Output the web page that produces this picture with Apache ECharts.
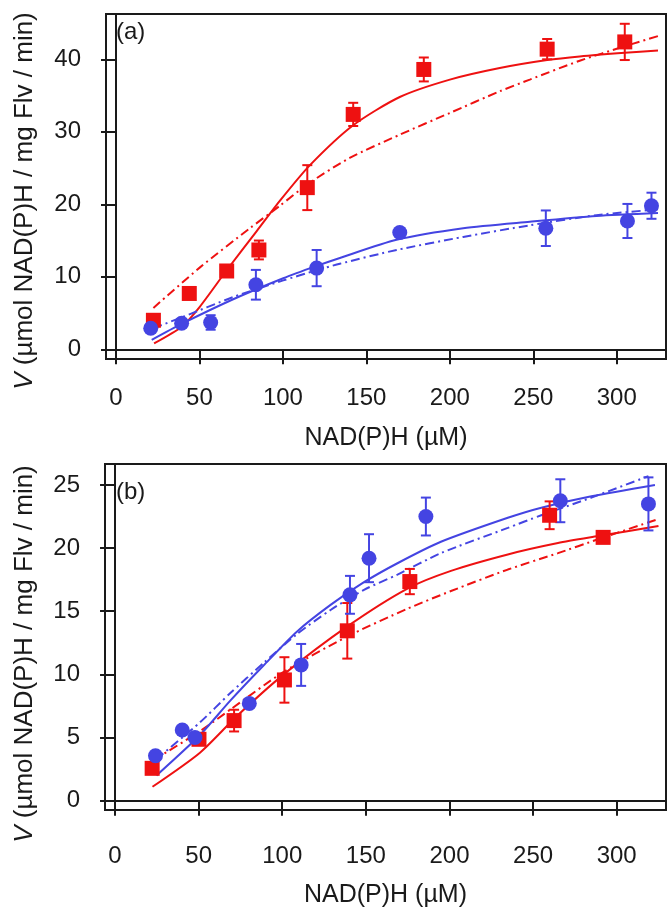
<!DOCTYPE html>
<html>
<head>
<meta charset="utf-8">
<script src="https://cdn.jsdelivr.net/npm/echarts@6/dist/echarts.min.js"></script>
<style>
  html, body { margin: 0; padding: 0; background: #fff; }
  #chart { width: 667px; height: 911px; }
</style>
</head>
<body>
<div id="chart"></div>
<script>
// tick labels
const xTicks = [0, 50, 100, 150, 200, 250, 300]
const yTicksA = [0, 10, 20, 30, 40]
const yTicksB = [0, 5, 10, 15, 20, 25]

// (a) measured points
const redAx = [22.4, 43.9, 66.3, 85.6, 114.6, 142.1, 184.4, 258.3, 304.8]
const redAy = [4.0, 7.7, 10.8, 13.7, 22.3, 32.4, 38.6, 41.4, 42.4]
const redAerr = [0, 0, 0, 1.3, 3.1, 1.6, 1.65, 1.4, 2.5]
const blueAx = [20.8, 39.3, 56.7, 83.8, 120.2, 170, 257.5, 306.4, 320.8]
const blueAy = [2.9, 3.6, 3.7, 8.9, 11.2, 16.1, 16.7, 17.7, 19.8]
const blueAerr = [0, 0, 1.0, 2.05, 2.5, 0, 2.45, 2.35, 1.8]

// (a) fitted curves
const redFitAx = [22.8, 39.3, 50.3, 66.3, 84.3, 98.6, 116.2, 142.1, 170, 200, 229.9, 258.3, 277.8, 304.8, 324.7]
const redFitAy = [0.8, 3.1, 5.9, 10.9, 16.3, 20.6, 25.4, 30.9, 34.8, 37.2, 38.8, 39.9, 40.4, 40.9, 41.2]
const redAltAx = [22.4, 50.3, 80.2, 98.2, 115, 140, 170, 200, 230, 247.9, 277.8, 304.8, 324.7]
const redAltAy = [5.7, 11.3, 16.7, 19.8, 22.8, 26.4, 29.6, 32.6, 35.6, 37.2, 39.8, 41.8, 43.2]
const blueFitAx = [21.4, 39.3, 70.2, 100.2, 120.2, 134.1, 168.1, 208, 247.9, 287.8, 324.7]
const blueFitAy = [1.3, 3.5, 6.9, 9.8, 11.5, 12.6, 15.1, 16.7, 17.6, 18.4, 18.8]
const blueAltAx = [22.4, 39.3, 70.2, 100.2, 120.2, 134.1, 168.1, 208, 247.9, 287.8, 324.7]
const blueAltAy = [2.9, 4.4, 7.2, 9.5, 10.9, 11.8, 13.7, 15.5, 17.1, 18.5, 19.3]

// (b) measured points
const redBx = [22.2, 50.2, 71.2, 101.3, 138.9, 176.3, 259.9, 291.9]
const redBy = [2.56, 4.86, 6.34, 9.56, 13.45, 17.35, 22.6, 20.85]
const redBerr = [0, 0, 0.86, 1.8, 2.2, 1.0, 1.1, 0]
const blueBx = [24.2, 40.2, 47.8, 80.3, 111.3, 140.5, 151.9, 185.9, 266.3, 319]
const blueBy = [3.56, 5.6, 5.0, 7.7, 10.75, 16.3, 19.2, 22.5, 23.75, 23.5]
const blueBerr = [0, 0, 0, 0, 1.66, 1.5, 1.9, 1.5, 1.7, 2.1]

// (b) fitted curves
const redFitBx = [22.4, 50.8, 72.9, 100.9, 138.9, 174.9, 200.9, 234.9, 264.9, 288.9, 325]
const redFitBy = [1.1, 3.8, 6.7, 10.0, 13.8, 16.8, 18.2, 19.5, 20.4, 20.95, 21.75]
const redAltBx = [23, 50.8, 68.8, 100.9, 138.9, 174.9, 200.9, 234.9, 264.9, 288.9, 325]
const redAltBy = [3.2, 5.5, 7.2, 10.2, 13.0, 15.2, 16.6, 18.3, 19.6, 20.7, 22.3]
const blueFitBx = [24.8, 50.8, 68.8, 88.8, 108.9, 128.9, 148.9, 168.9, 194.9, 234.9, 254.9, 284.9, 322.9]
const blueFitBy = [2.0, 5.2, 7.9, 10.7, 13.4, 15.5, 17.3, 18.8, 20.5, 22.4, 23.2, 24.1, 25.0]
const blueAltBx = [24.8, 50.8, 68.8, 88.8, 108.9, 128.9, 148.9, 168.9, 194.9, 234.9, 254.9, 284.9, 319]
const blueAltBy = [3.3, 6.2, 8.5, 10.9, 13.2, 15.1, 16.7, 17.9, 19.6, 21.6, 22.6, 24.0, 25.7]

const RED = '#EE1111'
const BLUE = '#4444E2'
const INK = '#1a1a1a'
const FONT = 'Liberation Sans, Arial, sans-serif'
const DASHDOT = [9, 4, 2, 4]

const zip = (xs, ys) => xs.map((x, i) => [x, ys[i]])

const chart = echarts.init(document.getElementById('chart'))

const xAxisOf = (idx, labelMargin, nameGap) => ({
  type: 'value', gridIndex: idx, min: -6, max: 329.5,
  name: 'NAD(P)H (µM)', nameLocation: 'middle', nameGap: nameGap,
  nameTextStyle: { fontSize: 25, color: INK, fontFamily: FONT },
  axisLine: { show: true, lineStyle: { color: INK, width: 2 } },
  axisTick: { show: true, inside: false, length: 15, lineStyle: { color: INK, width: 2 }, customValues: xTicks },
  axisLabel: { color: INK, fontSize: 24, fontFamily: FONT, margin: labelMargin, customValues: xTicks },
  splitLine: { show: false }
})

const yAxisOf = (idx, min, max, ticks) => ({
  type: 'value', gridIndex: idx, min: min, max: max,
  axisLine: { show: true, lineStyle: { color: INK, width: 2 } },
  axisTick: { show: true, inside: false, length: 15, lineStyle: { color: INK, width: 2 }, customValues: ticks },
  axisLabel: { color: INK, fontSize: 24, fontFamily: FONT, margin: 25, customValues: ticks },
  splitLine: { show: false }
})

const yTitle = (cy) => ({
  type: 'text', x: 25, y: cy, rotation: Math.PI / 2,
  style: {
    text: '{i|V} (µmol NAD(P)H / mg Flv / min)',
    fontSize: 26, fill: INK, fontFamily: FONT, align: 'center', verticalAlign: 'middle',
    rich: { i: { fontSize: 26, fontStyle: 'italic', fill: INK, fontFamily: FONT } }
  }
})

const curve = (idx, xs, ys, color, dashed) => ({
  type: 'line', xAxisIndex: idx, yAxisIndex: idx,
  data: zip(xs, ys), smooth: 0.25, showSymbol: false, silent: true, z: 2,
  lineStyle: { color: color, width: 2, type: dashed ? DASHDOT : 'solid' }
})

const errBars = (idx, xs, ys, errs, color) => ({
  type: 'custom', xAxisIndex: idx, yAxisIndex: idx, z: 3,
  data: xs.map((x, i) => [x, ys[i] - errs[i], ys[i] + errs[i]]).filter((d, i) => errs[i] > 0),
  renderItem: (params, api) => {
    const lo = api.coord([api.value(0), api.value(1)])
    const hi = api.coord([api.value(0), api.value(2)])
    const w = 5
    const style = { stroke: color, lineWidth: 2 }
    return {
      type: 'group',
      children: [
        { type: 'line', shape: { x1: lo[0], y1: lo[1], x2: hi[0], y2: hi[1] }, style },
        { type: 'line', shape: { x1: lo[0] - w, y1: lo[1], x2: lo[0] + w, y2: lo[1] }, style },
        { type: 'line', shape: { x1: hi[0] - w, y1: hi[1], x2: hi[0] + w, y2: hi[1] }, style }
      ]
    }
  }
})

const points = (idx, xs, ys, color, symbol, size, z) => ({
  type: 'scatter', xAxisIndex: idx, yAxisIndex: idx, z: z,
  data: zip(xs, ys), symbol: symbol, symbolSize: size,
  itemStyle: { color: color, opacity: 1 }
})

chart.setOption({
  animation: false,
  grid: [
    { left: 106, top: 14, right: 1, height: 345, show: true, borderColor: INK, borderWidth: 2 },
    { left: 105, top: 464, right: 1, height: 346, show: true, borderColor: INK, borderWidth: 2 }
  ],
  xAxis: [xAxisOf(0, 27, 67), xAxisOf(1, 34, 73)],
  yAxis: [yAxisOf(0, -1.34, 46.25, yTicksA), yAxisOf(1, -0.74, 26.66, yTicksB)],
  graphic: [
    { type: 'text', left: 116, top: 20, style: { text: '(a)', fontSize: 24, fill: INK, fontFamily: FONT } },
    { type: 'text', left: 116, top: 480, style: { text: '(b)', fontSize: 24, fill: INK, fontFamily: FONT } },
    yTitle(201),
    yTitle(654)
  ],
  series: [
    curve(0, redFitAx, redFitAy, RED, false),
    curve(0, redAltAx, redAltAy, RED, true),
    curve(0, blueFitAx, blueFitAy, BLUE, false),
    curve(0, blueAltAx, blueAltAy, BLUE, true),
    errBars(0, redAx, redAy, redAerr, RED),
    points(0, redAx, redAy, RED, 'rect', 15, 4),
    errBars(0, blueAx, blueAy, blueAerr, BLUE),
    points(0, blueAx, blueAy, BLUE, 'circle', 15, 5),

    curve(1, redFitBx, redFitBy, RED, false),
    curve(1, redAltBx, redAltBy, RED, true),
    curve(1, blueFitBx, blueFitBy, BLUE, false),
    curve(1, blueAltBx, blueAltBy, BLUE, true),
    errBars(1, redBx, redBy, redBerr, RED),
    points(1, redBx, redBy, RED, 'rect', 15, 4),
    errBars(1, blueBx, blueBy, blueBerr, BLUE),
    points(1, blueBx, blueBy, BLUE, 'circle', 15, 5)
  ]
})
</script>
</body>
</html>
